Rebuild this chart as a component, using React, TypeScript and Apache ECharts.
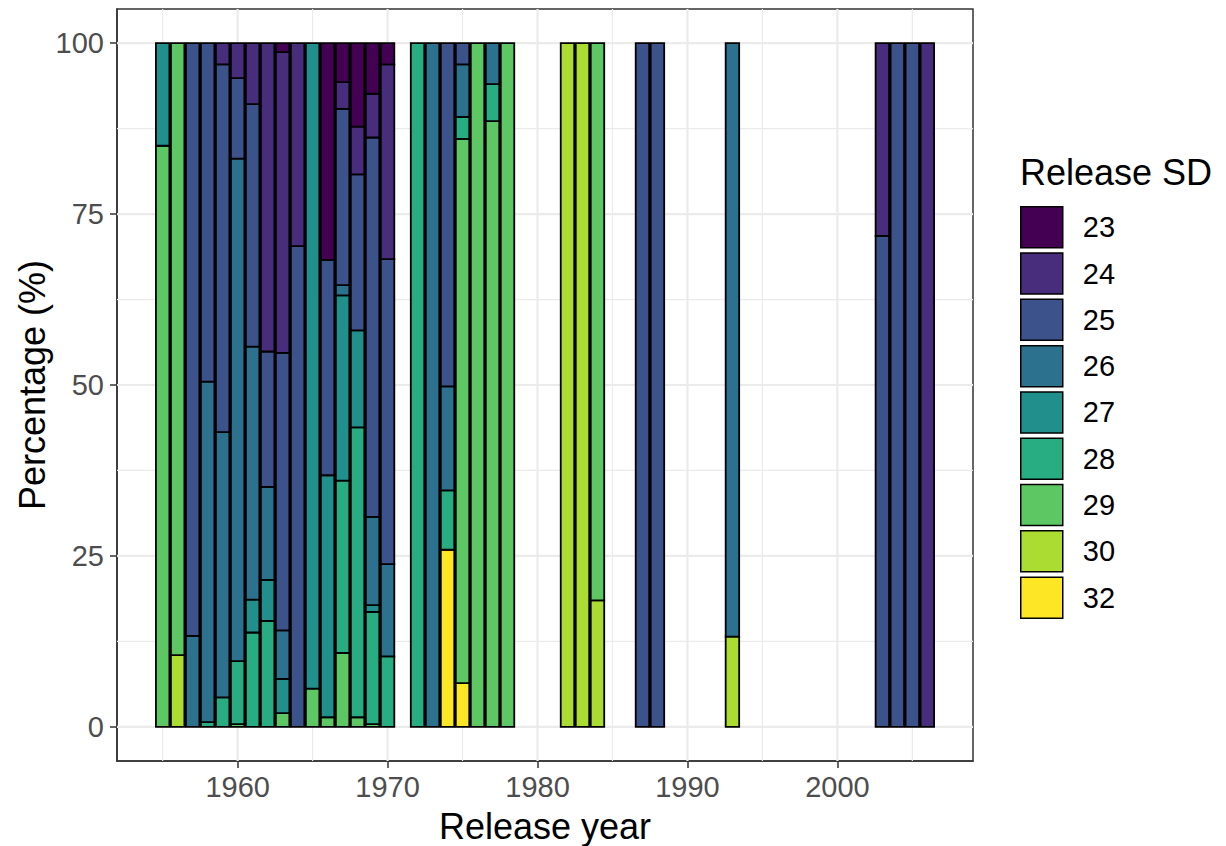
import React, { useEffect, useRef } from "react";
import * as echarts from "echarts";

// Release years (x positions on a continuous axis)
const years = [
  1955, 1956, 1957, 1958, 1959, 1960, 1961, 1962, 1963, 1964, 1965, 1966, 1967, 1968, 1969, 1970,
  1972, 1973, 1974, 1975, 1976, 1977, 1978,
  1982, 1983, 1984,
  1987, 1988,
  1993,
  2003, 2004, 2005, 2006,
];

const n = null;
// Percentage per release SD level, aligned with `years`
const sd23 = [n, n, n, n, n, n, n, n, 1.3, n, n, 31.7, 5.7, 12.2, 7.4, 3.1, n, n, n, n, n, n, n, n, n, n, n, n, n, n, n, n, n];
const sd24 = [n, n, n, n, 3.1, 5.1, 8.9, 45.1, 44.0, 29.7, n, n, 3.9, 7.0, 6.4, 28.5, n, n, n, n, n, n, n, n, n, n, n, n, n, 28.2, n, n, 100];
const sd25 = [n, n, 86.7, 49.5, 53.8, 11.8, 35.5, 19.8, 40.6, 70.3, n, 31.5, 25.8, 22.8, 55.5, 44.6, n, n, 50.2, 3.1, n, n, n, n, n, n, 100, 100, n, 71.8, 100, 100, n];
const sd26 = [n, n, 13.3, 49.8, 38.8, 73.5, 37.0, 13.6, 7.1, n, n, n, 1.5, n, 12.9, 13.5, n, 100, 15.2, 7.7, n, 6.0, n, n, n, n, n, n, 86.8, n, n, n, n];
const sd27 = [15.0, n, n, n, n, n, 4.8, 6.0, 5.0, n, 94.4, 35.4, 27.1, 14.2, 1.0, n, n, n, n, n, n, n, n, n, n, n, n, n, n, n, n, n, n];
const sd28 = [n, n, n, 0.7, 4.3, 9.2, 13.8, 15.5, n, n, n, n, 25.2, 42.4, 16.4, 10.3, 100, n, 8.7, 3.2, n, 5.4, n, n, n, n, n, n, n, n, n, n, n];
const sd29 = [85.0, 89.5, n, n, n, 0.4, n, n, 2.0, n, 5.6, 1.4, 10.8, 1.4, 0.4, n, n, n, n, 79.6, 100, 88.6, 100, n, n, 81.5, n, n, n, n, n, n, n];
const sd30 = [n, 10.5, n, n, n, n, n, n, n, n, n, n, n, n, n, n, n, n, n, n, n, n, n, 100, 100, 18.5, n, n, 13.2, n, n, n, n];
const sd32 = [n, n, n, n, n, n, n, n, n, n, n, n, n, n, n, n, n, n, 25.9, 6.4, n, n, n, n, n, n, n, n, n, n, n, n, n];

const levels = ["23", "24", "25", "26", "27", "28", "29", "30", "32"];
const levelValues = [sd23, sd24, sd25, sd26, sd27, sd28, sd29, sd30, sd32];
const levelColors = ["#440154", "#472D7B", "#3B528B", "#2C728E", "#21908C", "#27AD81", "#5DC863", "#AADC32", "#FDE725"];

const xMajor = [1960, 1970, 1980, 1990, 2000];
const xMinor = [1955, 1965, 1975, 1985, 1995, 2005];
const yMajor = [0, 25, 50, 75, 100];
const yMinor = [12.5, 37.5, 62.5, 87.5];

const X_MIN = 1951.955;
const X_MAX = 2009.045;
const Y_MIN = -5;
const Y_MAX = 105;
const BAR_WIDTH_YEARS = 0.9;

const FONT = "'Liberation Sans', Arial, sans-serif";

export default function App() {
  const ref = useRef<HTMLDivElement>(null);

  useEffect(() => {
    if (!ref.current) return;
    const chart = echarts.init(ref.current, undefined, { renderer: "svg" });

    // Build stacked segments: bottom -> top order is 32, 30, 29, ..., 23
    const order = levels.map((_, i) => i).reverse();
    const cum = years.map(() => 0);
    const segmentsByLevel: { [k: number]: number[][] } = {};
    order.forEach((li) => {
      const segs: number[][] = [];
      years.forEach((y, i) => {
        const v = levelValues[li][i];
        if (v == null) return;
        const b = cum[i];
        const t = b + v;
        cum[i] = t;
        segs.push([y, b, t]);
      });
      segmentsByLevel[li] = segs;
    });

    const renderSeg = (color: string) => (params: any, api: any) => {
      const x = api.value(0);
      const p0 = api.coord([x, api.value(1)]);
      const p1 = api.coord([x, api.value(2)]);
      const w = api.size([BAR_WIDTH_YEARS, 0])[0];
      return {
        type: "rect",
        shape: { x: p0[0] - w / 2, y: p1[1], width: w, height: p0[1] - p1[1] },
        style: { fill: color, stroke: "#000000", lineWidth: 1.8 },
      };
    };

    const barSeries: any[] = order.map((li) => ({
      name: levels[li],
      type: "custom",
      z: 3,
      data: segmentsByLevel[li],
      encode: { x: 0, y: [1, 2] },
      itemStyle: { color: levelColors[li], borderColor: "#000000", borderWidth: 1.5 },
      renderItem: renderSeg(levelColors[li]),
      silent: true,
    }));

    // Grid lines: [value, isVertical(1/0), isMajor(1/0)]
    const gridData = [
      ...xMinor.map((v) => [v, 1, 0]),
      ...yMinor.map((v) => [v, 0, 0]),
      ...xMajor.map((v) => [v, 1, 1]),
      ...yMajor.map((v) => [v, 0, 1]),
    ];
    const gridSeries = {
      name: "grid",
      type: "custom",
      z: 1,
      silent: true,
      data: gridData,
      encode: { x: -1, y: -1 },
      renderItem: (params: any, api: any) => {
        const v = api.value(0);
        const vertical = api.value(1) === 1;
        const major = api.value(2) === 1;
        const a = vertical ? api.coord([v, Y_MIN]) : api.coord([X_MIN, v]);
        const b = vertical ? api.coord([v, Y_MAX]) : api.coord([X_MAX, v]);
        return {
          type: "line",
          shape: { x1: a[0], y1: a[1], x2: b[0], y2: b[1] },
          style: { stroke: "#EBEBEB", lineWidth: major ? 2.2 : 1.2 },
        };
      },
    };

    chart.setOption({
      animation: false,
      backgroundColor: "#ffffff",
      textStyle: { fontFamily: FONT },
      grid: {
        left: 117,
        top: 9,
        width: 856,
        height: 752,
        show: true,
        borderColor: "#333333",
        borderWidth: 1.5,
        backgroundColor: "transparent",
        containLabel: false,
      },
      xAxis: {
        type: "value",
        min: X_MIN,
        max: X_MAX,
        splitLine: { show: false },
        axisLine: { show: true, onZero: false, lineStyle: { color: "#333333", width: 1.5 } },
        axisTick: { show: true, customValues: xMajor, length: 7, lineStyle: { color: "#333333", width: 1.5 } },
        axisLabel: {
          customValues: xMajor,
          fontSize: 29,
          color: "#4D4D4D",
          margin: 11,
          fontFamily: FONT,
          formatter: (v: number) => String(v),
        },
      },
      yAxis: {
        type: "value",
        min: Y_MIN,
        max: Y_MAX,
        splitLine: { show: false },
        axisLine: { show: true, onZero: false, lineStyle: { color: "#333333", width: 1.5 } },
        axisTick: { show: true, customValues: yMajor, length: 7, lineStyle: { color: "#333333", width: 1.5 } },
        axisLabel: {
          customValues: yMajor,
          fontSize: 29,
          color: "#4D4D4D",
          margin: 13,
          fontFamily: FONT,
          formatter: (v: number) => String(v),
        },
      },
      legend: {
        data: levels,
        orient: "vertical",
        left: 1020,
        top: 206,
        padding: 0,
        icon: "rect",
        itemWidth: 42,
        itemHeight: 41,
        itemGap: 3.8,
        selectedMode: false,
        itemStyle: { borderColor: "#000000", borderWidth: 1.5 },
        textStyle: { fontSize: 29, color: "#000000", fontFamily: FONT, padding: [0, 0, 0, 15] },
      },
      graphic: [
        {
          type: "text",
          x: 545,
          y: 826,
          style: {
            text: "Release year",
            fontSize: 36,
            fontFamily: FONT,
            fill: "#000000",
            textAlign: "center",
            textVerticalAlign: "middle",
          },
        },
        {
          type: "text",
          x: 32,
          y: 385,
          rotation: Math.PI / 2,
          style: {
            text: "Percentage (%)",
            fontSize: 36,
            fontFamily: FONT,
            fill: "#000000",
            textAlign: "center",
            textVerticalAlign: "middle",
          },
        },
        {
          type: "text",
          x: 1020,
          y: 172,
          style: {
            text: "Release SD",
            fontSize: 36,
            fontFamily: FONT,
            fill: "#000000",
            textAlign: "left",
            textVerticalAlign: "middle",
          },
        },
      ],
      series: [gridSeries, ...barSeries],
    });

    return () => {
      chart.dispose();
    };
  }, []);

  return (
    <div
      ref={ref}
      style={{ position: "fixed", left: 0, top: 0, width: 1226, height: 846, background: "#ffffff" }}
    />
  );
}
